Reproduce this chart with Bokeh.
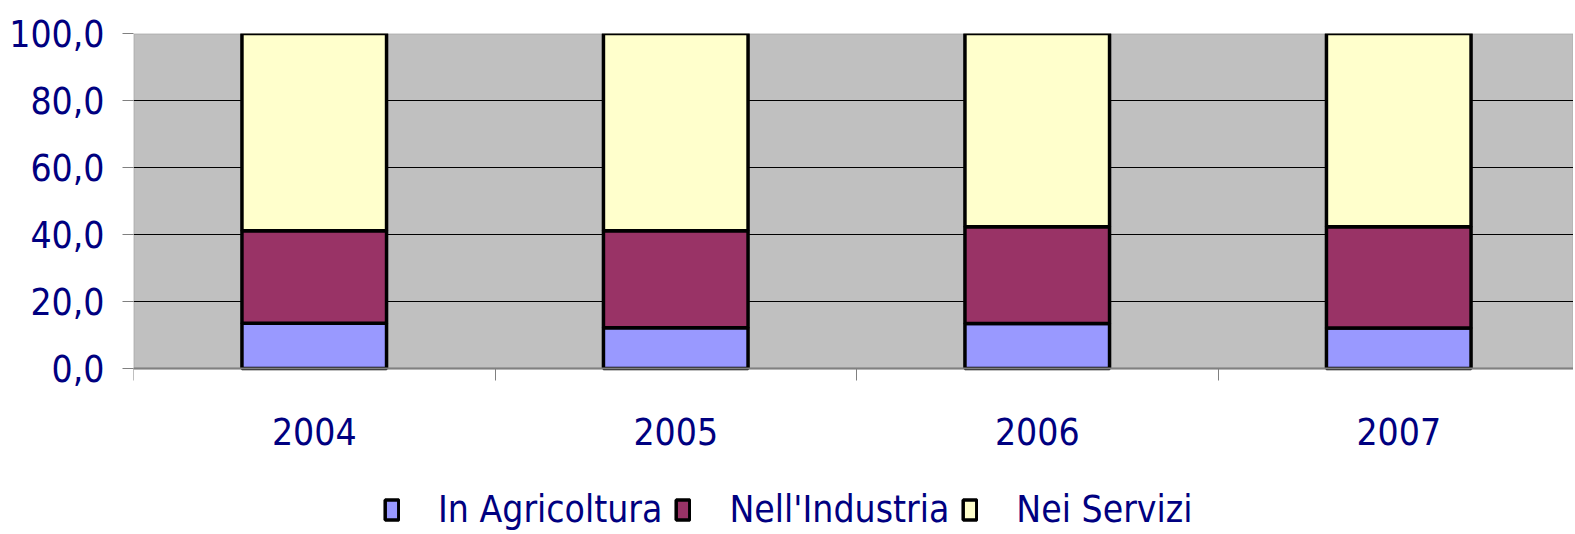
from bokeh.plotting import figure
from bokeh.models import ColumnDataSource, Range1d, FixedTicker, Legend, LegendItem, BoxAnnotation
from bokeh.embed import file_html
from bokeh.resources import INLINE

years = ["2004", "2005", "2006", "2007"]
agricoltura = [13.5, 12.2, 13.4, 12.1]
industria = [27.6, 28.9, 28.9, 30.2]
servizi = [58.9, 58.9, 57.7, 57.7]
series_names = ["In Agricoltura", "Nell'Industria", "Nei Servizi"]
colors = ["#9999FF", "#993366", "#FFFFCC"]
y_ticks = [0, 20, 40, 60, 80, 100]

FONT = "'Liberation Sans Narrow', 'Arial Narrow', 'DejaVu Sans Condensed', sans-serif"
NAVY = "#000080"
FS = "37px"
GRAY = "#808080"

xs = [i + 0.5 for i in range(len(years))]
src = ColumnDataSource(dict(x=xs, agri=agricoltura, ind=industria, serv=servizi))

FW = 1440
FH = 498
PX_PER_UNIT = 3.35
p = figure(frame_width=FW, frame_height=FH, output_backend="svg", toolbar_location=None,
           min_border_left=133, min_border_top=33, min_border_right=0, min_border_bottom=0,
           x_range=Range1d(0, FW / 361.5), y_range=Range1d(100 - FH / PX_PER_UNIT, 100))
p.background_fill_color = "white"
p.border_fill_color = "white"
p.outline_line_color = None

plot_area = BoxAnnotation(bottom=0, top=100, fill_color="#C0C0C0", fill_alpha=1,
                          line_color=GRAY, line_width=2, level="image")
p.add_layout(plot_area)

renderers = p.vbar_stack(["agri", "ind", "serv"], x="x", width=0.4, source=src,
                         fill_color=colors, line_color="black", line_width=3.5)

p.xgrid.visible = False
p.ygrid.ticker = FixedTicker(ticks=y_ticks[1:-1])
p.ygrid.grid_line_color = "black"
p.ygrid.grid_line_width = 1

p.yaxis.ticker = FixedTicker(ticks=y_ticks)
p.yaxis.major_label_overrides = {t: f"{t:.1f}".replace(".", ",") for t in y_ticks}
p.yaxis.axis_line_color = None
p.yaxis.major_tick_line_color = GRAY
p.yaxis.major_tick_out = 11
p.yaxis.major_tick_in = 0
p.yaxis.minor_tick_line_color = None
p.yaxis.major_label_text_font = FONT
p.yaxis.major_label_text_font_size = FS
p.yaxis.major_label_text_color = NAVY
p.yaxis.major_label_standoff = 18

p.xaxis.fixed_location = 0
p.xaxis.ticker = FixedTicker(ticks=xs, minor_ticks=[0, 1, 2, 3, 4])
p.xaxis.major_label_overrides = {x: y for x, y in zip(xs, years)}
p.xaxis.axis_line_color = GRAY
p.xaxis.axis_line_width = 2
p.xaxis.major_tick_line_color = None
p.xaxis.minor_tick_line_color = GRAY
p.xaxis.minor_tick_out = 12
p.xaxis.minor_tick_in = 0
p.xaxis.major_label_text_font = FONT
p.xaxis.major_label_text_font_size = FS
p.xaxis.major_label_text_color = NAVY
p.xaxis.major_label_standoff = 37

legend = Legend(items=[LegendItem(label=n, renderers=[r]) for n, r in zip(series_names, renderers)],
                orientation="horizontal", location=(250, 0))
legend.label_text_font = FONT
legend.label_text_font_size = FS
legend.label_text_color = NAVY
legend.glyph_width = 17
legend.glyph_height = 25
legend.label_standoff = 38
legend.spacing = 12
legend.padding = 0
legend.margin = 0
legend.border_line_color = None
legend.background_fill_alpha = 0
p.add_layout(legend, "center")

open("out.html", "w").write(file_html(p, INLINE))
